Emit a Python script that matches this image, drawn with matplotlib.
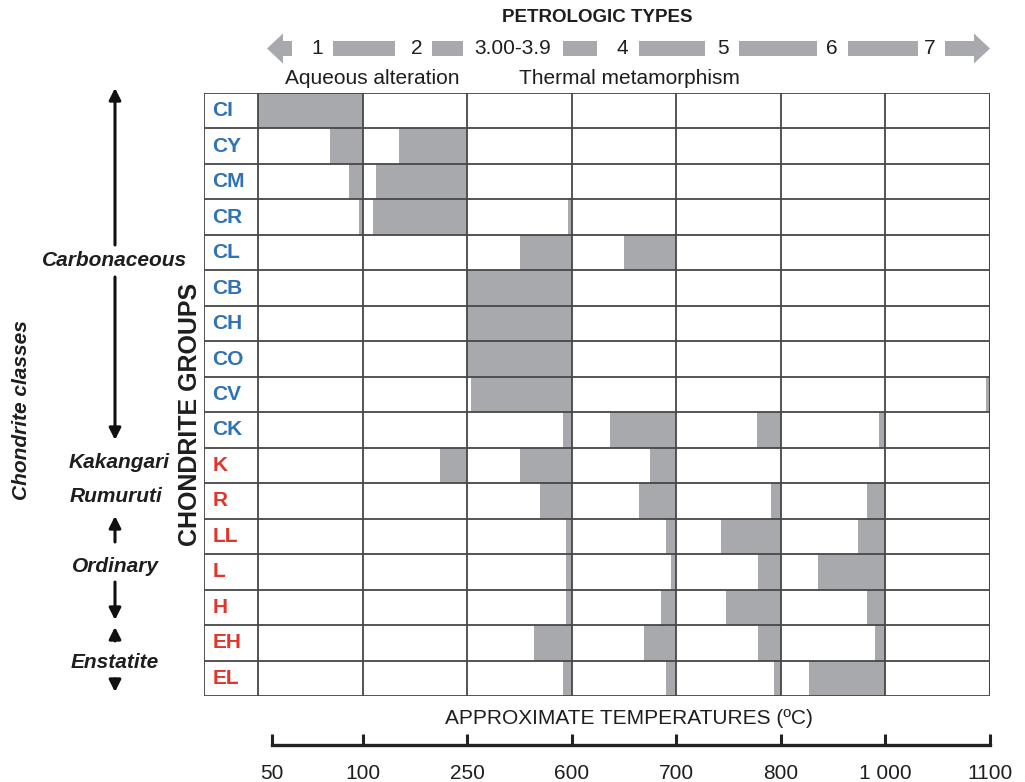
import matplotlib
matplotlib.use("Agg")
import matplotlib.pyplot as plt
from matplotlib.patches import Polygon

# ---------------- data ----------------
groups = ["CI", "CY", "CM", "CR", "CL", "CB", "CH", "CO", "CV", "CK",
          "K", "R", "LL", "L", "H", "EH", "EL"]
carbonaceous = ["CI", "CY", "CM", "CR", "CL", "CB", "CH", "CO", "CV", "CK"]

# gray ranges, in petrologic-type column units (0 = start of type 1 column)
seg_group = ["CI",
             "CY", "CY",
             "CM", "CM",
             "CR", "CR", "CR",
             "CL", "CL",
             "CB", "CH", "CO",
             "CV", "CV",
             "CK", "CK", "CK", "CK",
             "K", "K", "K",
             "R", "R", "R", "R",
             "LL", "LL", "LL", "LL",
             "L", "L", "L", "L",
             "H", "H", "H", "H",
             "EH", "EH", "EH", "EH",
             "EL", "EL", "EL", "EL"]
seg_start = [0.00,
             0.69, 1.35,
             0.87, 1.13,
             0.96, 1.10, 2.96,
             2.50, 3.50,
             2.00, 2.00, 2.00,
             2.03, 6.96,
             2.91, 3.36, 4.77, 5.94,
             1.74, 2.50, 3.75,
             2.69, 3.64, 4.90, 5.82,
             2.94, 3.90, 4.43, 5.74,
             2.94, 3.95, 4.78, 5.35,
             2.94, 3.85, 4.47, 5.82,
             2.64, 3.69, 4.78, 5.90,
             2.91, 3.90, 4.93, 5.27]
seg_end = [1.00,
           1.00, 2.00,
           1.00, 2.00,
           1.00, 2.00, 3.00,
           3.00, 4.00,
           3.00, 3.00, 3.00,
           3.00, 7.00,
           3.00, 4.00, 5.00, 6.00,
           2.00, 3.00, 4.00,
           3.00, 4.00, 5.00, 6.00,
           3.00, 4.00, 5.00, 6.00,
           3.00, 4.00, 5.00, 6.00,
           3.00, 4.00, 5.00, 6.00,
           3.00, 4.00, 5.00, 6.00,
           3.00, 4.00, 5.00, 6.00]

petrologic_types = ["1", "2", "3.00-3.9", "4", "5", "6", "7"]
temp_labels = ["50", "100", "250", "600", "700", "800", "1 000", "1100"]

# ---------------- style ----------------
plt.rcParams["font.family"] = ["Liberation Sans", "DejaVu Sans"]
W, H = 1025, 782
fig = plt.figure(figsize=(W / 100, H / 100), dpi=100)

BLUE = "#2f72b6"
RED = "#e0352b"
GRAY = "#a7a9ac"
LINE = "#474747"
TXT = "#1e1e1e"

def px(x0, y0, x1, y1):
    return [x0 / W, 1 - y1 / H, (x1 - x0) / W, (y1 - y0) / H]

# main table
LEFT_EDGE = -0.52
ax = fig.add_axes(px(204, 93, 990, 696))
ax.set_xlim(LEFT_EDGE, 7)
ax.set_ylim(len(groups), 0)
ax.axis("off")

row_of = {g: i for i, g in enumerate(groups)}
ys = [row_of[g] + 0.5 for g in seg_group]
widths = [e - s for s, e in zip(seg_start, seg_end)]
ax.barh(ys, widths, left=seg_start, height=1.0, color=GRAY, edgecolor="none", zorder=1)

for i in range(len(groups) + 1):
    ax.plot([LEFT_EDGE, 7], [i, i], color=LINE, lw=1.3, zorder=3, solid_capstyle="butt")
for xv in [LEFT_EDGE] + list(range(8)):
    ax.plot([xv, xv], [0, len(groups)], color=LINE, lw=1.5 if xv == 7 else 1.3,
            zorder=3, solid_capstyle="butt")

for g in groups:
    ax.text(-0.44, row_of[g] + 0.5, g, ha="left", va="center", fontsize=15,
            fontweight="bold", color=BLUE if g in carbonaceous else RED)

# temperature scale
tax = fig.add_axes(px(204, 700, 990, 745))
tax.set_xlim(LEFT_EDGE, 7)
tax.set_ylim(0, 1)
tax.patch.set_alpha(0)
for s in ["top", "left", "right"]:
    tax.spines[s].set_visible(False)
tax.spines["bottom"].set_linewidth(2.4)
tax.spines["bottom"].set_color("#222222")
tax.spines["bottom"].set_bounds(0.13, 7)
tax.set_yticks([])
tax.set_xticks([0.13, 1, 2, 3, 4, 5, 6, 7], temp_labels)
tax.tick_params(axis="x", direction="in", length=8, width=2.2, color="#222222",
                pad=14, labelsize=15, labelcolor=TXT)

# decoration overlay in pixel coordinates
deco = fig.add_axes([0, 0, 1, 1])
deco.set_xlim(0, W)
deco.set_ylim(H, 0)
deco.axis("off")
deco.patch.set_alpha(0)

deco.text(629, 718, "APPROXIMATE TEMPERATURES (ºC)", ha="center", va="center",
          fontsize=15, color=TXT)

deco.text(597, 18, "PETROLOGIC TYPES", ha="center", va="center", fontsize=13.5,
          fontweight="bold", color=TXT)

yc = 48.5
bh = 7.5
hh = 15
deco.add_patch(Polygon([(267, yc), (283, yc - hh), (283, yc - bh), (292, yc - bh),
                        (292, yc + bh), (283, yc + bh), (283, yc + hh)],
                       closed=True, color=GRAY, lw=0))
deco.add_patch(Polygon([(990, yc), (974, yc - hh), (974, yc - bh), (945, yc - bh),
                        (945, yc + bh), (974, yc + bh), (974, yc + hh)],
                       closed=True, color=GRAY, lw=0))
for x0, x1 in [(333, 395), (432, 463), (563, 597), (639, 705), (739, 817), (848, 918)]:
    deco.add_patch(Polygon([(x0, yc - bh), (x1, yc - bh), (x1, yc + bh), (x0, yc + bh)],
                           closed=True, color=GRAY, lw=0))
for lab, xc in zip(petrologic_types, [317, 417, 513, 622, 723, 832, 930]):
    deco.text(xc, yc, lab, ha="center", va="center", fontsize=15, color=TXT)

deco.text(372, 78, "Aqueous alteration", ha="center", va="center", fontsize=15, color=TXT)
deco.text(629, 78, "Thermal metamorphism", ha="center", va="center", fontsize=15, color=TXT)

deco.text(190, 414, "CHONDRITE GROUPS", ha="center", va="center", rotation=90,
          fontsize=18, fontweight="bold", color=TXT)
deco.text(22, 410, "Chondrite classes", ha="center", va="center", rotation=90,
          fontsize=15, fontweight="bold", fontstyle="italic", color=TXT)

for lab, xc, yy in [("Carbonaceous", 115, 260), ("Kakangari", 119, 462),
                    ("Rumuruti", 116, 497), ("Ordinary", 115, 567),
                    ("Enstatite", 115, 662)]:
    deco.text(xc, yy, lab, ha="center", va="center", fontsize=15,
              fontweight="bold", fontstyle="italic", color=TXT)

for y0, y1 in [(245, 88), (277, 440), (542, 516), (582, 620), (641, 627), (679, 692)]:
    deco.annotate("", xy=(115, y1), xytext=(115, y0),
                  arrowprops=dict(arrowstyle="-|>,head_length=0.7,head_width=0.35",
                                  color="#111111", lw=2.2, shrinkA=0, shrinkB=0))

fig.savefig("out.png", dpi=100)
